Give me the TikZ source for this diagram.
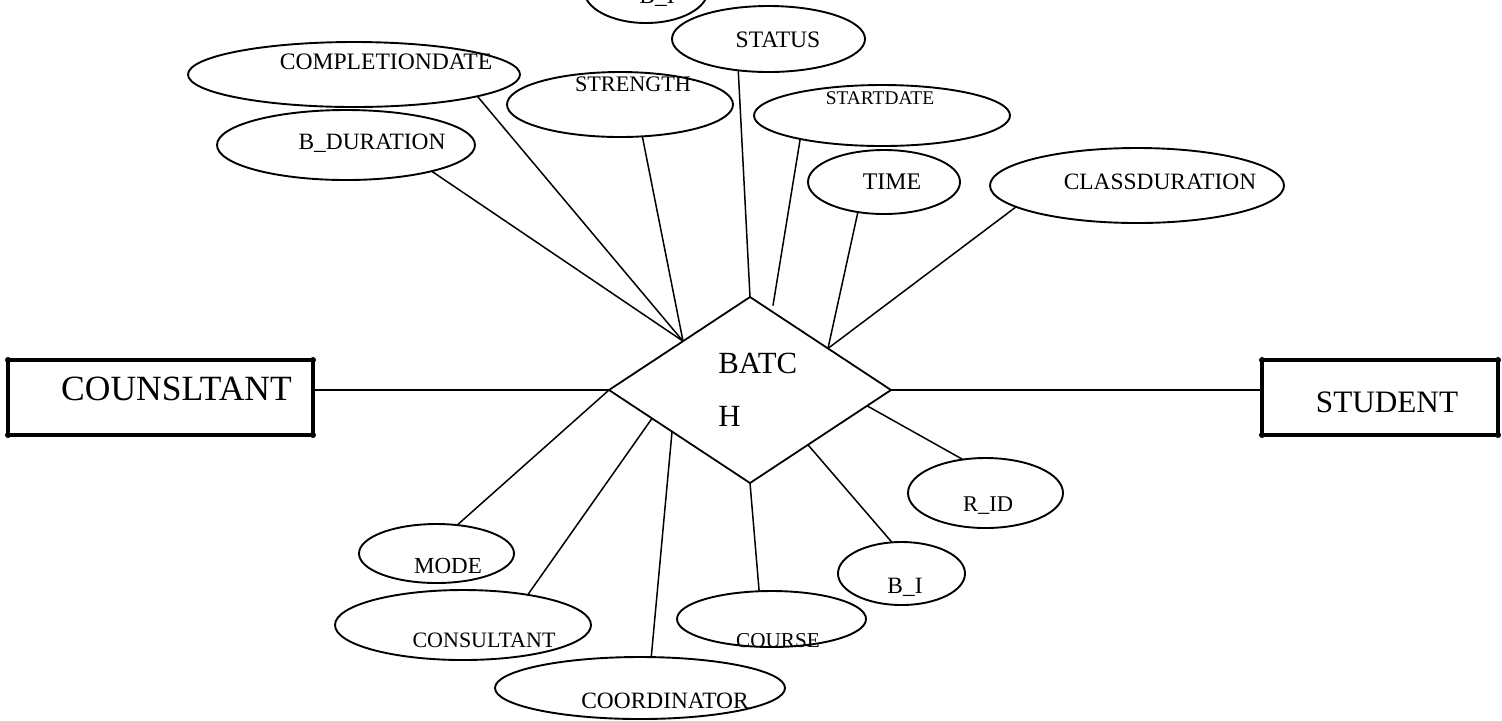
\documentclass[tikz,border=0pt]{standalone}
\usepackage{fontspec}
\setmainfont{Liberation Serif}
\usetikzlibrary{shapes.geometric,calc}
\begin{document}
\begin{tikzpicture}[x=0.5pt,y=-0.5pt,
  attr/.style={draw, ellipse, line width=0.95pt, inner sep=0pt, outer sep=0pt},
  entity/.style={draw, rectangle, line width=1.9pt, inner sep=0pt, outer sep=0pt},
  rel/.style={draw, diamond, line width=0.9pt, inner sep=0pt, outer sep=0pt},
  conn/.style={line width=0.75pt},
  lbl/.style={inner sep=0pt, anchor=base},
  fs/.style={font=\fontsize{#1}{#1}\selectfont},
]
\useasboundingbox (0,0) rectangle (1502,720);

% relationship
\node[rel, minimum width=141pt, minimum height=93pt] (batch) at (750,390) {};
\node[lbl, anchor=base west, fs=15.4] (batch-t1) at (718,373) {BATC};
\node[lbl, anchor=base west, fs=15.4] (batch-t2) at (718,426) {H};

% entities
\node[entity, minimum width=152.5pt, minimum height=37.5pt] (counsl) at (160.5,397.5) {};
\node[lbl, fs=17.75] (counsl-t) at (176.5,400) {COUNSLTANT};
\node[entity, minimum width=118pt, minimum height=37.5pt] (student) at (1380,397.5) {};
\node[lbl, fs=15.6] (student-t) at (1387,412) {STUDENT};
\foreach \n in {counsl,student}
  \foreach \a in {north west,north east,south west,south east}
    \fill (\n.\a) circle[radius=3];

% attributes above
\node[attr, minimum width=62pt, minimum height=33pt] (bitop) at (646,-10) {};
\node[lbl, fs=11.7] (bitop-t) at (657,3) {B\_I};
\node[attr, minimum width=166pt, minimum height=32.5pt] (cdate) at (354,74.5) {};
\node[lbl, fs=11.8] (cdate-t) at (386,69) {COMPLETIONDATE};
\node[attr, minimum width=129pt, minimum height=35pt] (bdur) at (346,145) {};
\node[lbl, fs=11.7] (bdur-t) at (372,149) {B\_DURATION};
\node[attr, minimum width=113pt, minimum height=32.5pt] (strength) at (620,104.5) {};
\node[lbl, fs=11.1] (strength-t) at (633,91) {STRENGTH};
\node[attr, minimum width=96.5pt, minimum height=33pt] (status) at (768.5,39) {};
\node[lbl, fs=11.8] (status-t) at (778,47) {STATUS};
\node[attr, minimum width=128pt, minimum height=30.5pt] (sdate) at (882,115.5) {};
\node[lbl, fs=9.7] (sdate-t) at (880,104) {STARTDATE};
\node[attr, minimum width=76pt, minimum height=32pt] (time) at (884,182) {};
\node[lbl, fs=11.9] (time-t) at (892,189) {TIME};
\node[attr, minimum width=147pt, minimum height=37.5pt] (cdur) at (1137,185.5) {};
\node[lbl, fs=11.7] (cdur-t) at (1160,189) {CLASSDURATION};

% attributes below
\node[attr, minimum width=77.5pt, minimum height=29.5pt] (mode) at (436.5,553.5) {};
\node[lbl, fs=11.5] (mode-t) at (448,573) {MODE};
\node[attr, minimum width=128pt, minimum height=35pt] (consult) at (463,625) {};
\node[lbl, fs=11] (consult-t) at (484,647) {CONSULTANT};
\node[attr, minimum width=145pt, minimum height=31pt] (coord) at (640,688) {};
\node[lbl, fs=11.7] (coord-t) at (665,708) {COORDINATOR};
\node[attr, minimum width=94.5pt, minimum height=28pt] (course) at (771.5,619) {};
\node[lbl, fs=10.6] (course-t) at (778,647) {COURSE};
\node[attr, minimum width=63.5pt, minimum height=31.5pt] (bi) at (901.5,573.5) {};
\node[lbl, fs=11.7] (bi-t) at (905,593) {B\_I};
\node[attr, minimum width=77.5pt, minimum height=35pt] (rid) at (985.5,493) {};
\node[lbl, fs=11.25] (rid-t) at (988,511) {R\_ID};

% attachment points on the diamond edges
\coordinate (ul)  at ($(batch.west)!0.525!(batch.north)$);
\coordinate (ur1) at ($(batch.north)!0.156!(batch.east)$);
\coordinate (ur2) at ($(batch.north)!0.553!(batch.east)$);
\coordinate (lr1) at ($(batch.east)!0.17!(batch.south)$);
\coordinate (lr2) at ($(batch.east)!0.589!(batch.south)$);
\coordinate (ll1) at ($(batch.west)!0.305!(batch.south)$);
\coordinate (ll2) at ($(batch.west)!0.447!(batch.south)$);

% connectors
\draw[conn] (bdur.-17) -- (ul);
\draw[conn] (cdate.-10) -- (ul);
\draw[conn] (strength.-55) -- (ul);
\draw[conn] (status.226) -- (batch.north);
\draw[conn, shorten >=3pt] (sdate.196) -- (ur1);
\draw[conn] (time.229) -- (ur2);
\draw[conn] (cdur.190) -- (ur2);
\draw[conn] (counsl.east |- batch.west) -- (batch.west);
\draw[conn] (batch.east) -- (batch.east -| student.west);
\draw[conn] (batch.west) -- (mode.54);
\draw[conn] (ll1) -- (consult.25);
\draw[conn] (ll2) -- (coord.70);
\draw[conn] (batch.south) -- (course.114);
\draw[conn] (lr2) -- (bi.107);
\draw[conn] (lr1) -- (rid.124);
\end{tikzpicture}
\end{document}
